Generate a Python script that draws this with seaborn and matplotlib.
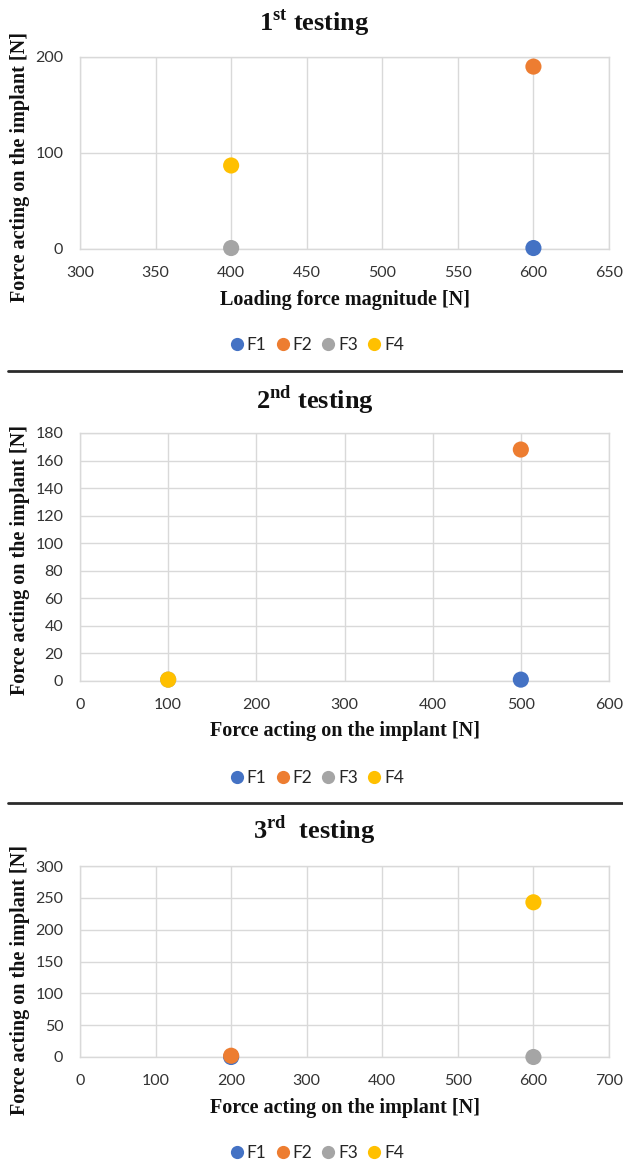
import matplotlib
matplotlib.use("Agg")
import matplotlib.pyplot as plt
from matplotlib.lines import Line2D
import numpy as np
import pandas as pd
import seaborn as sns

# ---- data -------------------------------------------------------------
series = ["F1", "F2", "F3", "F4"]
colors = ["#4472C4", "#ED7D31", "#A5A5A5", "#FFC000"]

# 1st testing
load_1 = [600, 600, 400, 400]
force_1 = [1, 190, 1, 87]
# 2nd testing
load_2 = [500, 500, 100, 100]
force_2 = [1, 168, 1, 1]
# 3rd testing
load_3 = [200, 200, 600, 600]
force_3 = [0, 2, 0, 243]

titles = ["1$^{\\mathrm{st}}$ testing", "2$^{\\mathrm{nd}}$ testing", "3$^{\\mathrm{rd}}$  testing"]
xlabels = ["Loading force magnitude [N]", "Force acting on the implant [N]",
           "Force acting on the implant [N]"]
ylabel = "Force acting on the implant [N]"
xticks = [np.arange(300, 651, 50), np.arange(0, 601, 100), np.arange(0, 701, 100)]
yticks = [np.arange(0, 201, 100), np.arange(0, 181, 20), np.arange(0, 301, 50)]

# ---- style ------------------------------------------------------------
sns.set_theme(style="white")
plt.rcParams["font.family"] = ["Lato", "DejaVu Sans"]
plt.rcParams["mathtext.fontset"] = "custom"
plt.rcParams["mathtext.rm"] = "Liberation Serif:bold"
plt.rcParams["mathtext.bf"] = "Liberation Serif:bold"

W, H = 623, 1164
fig = plt.figure(figsize=(W / 100, H / 100), dpi=100)
fig.patch.set_facecolor("white")

serif = dict(family="Liberation Serif", weight="bold")
grid_c = "#D9D9D9"
text_c = "#333333"

# pixel layout of each panel (from the top of the figure)
L, R = 80, 609
panels = [
    dict(top=57, bottom=249, title=23, xlab=300, ylab=167, leg=345),
    dict(top=433, bottom=681, title=400, xlab=731, ylab=560, leg=778),
    dict(top=866, bottom=1057, title=830, xlab=1108, ylab=980, leg=1153),
]
data = [(load_1, force_1), (load_2, force_2), (load_3, force_3)]

for i, (p, (xs, ys)) in enumerate(zip(panels, data)):
    rect = [L / W, 1 - p["bottom"] / H, (R - L) / W, (p["bottom"] - p["top"]) / H]
    ax = fig.add_axes(rect)
    df = pd.DataFrame({"load": xs, "force": ys, "series": series})
    sns.scatterplot(data=df, x="load", y="force", hue="series",
                    palette=dict(zip(series, colors)), hue_order=series,
                    s=135, edgecolor="none", linewidth=0, ax=ax, legend=False,
                    zorder=3, clip_on=False)
    ax.set_xlim(xticks[i][0], xticks[i][-1])
    ax.set_ylim(yticks[i][0], yticks[i][-1])
    ax.set_xticks(xticks[i])
    ax.set_yticks(yticks[i])
    ax.grid(True, color=grid_c, linewidth=1.0)
    for s in ax.spines.values():
        s.set_color(grid_c)
        s.set_linewidth(1.0)
    ax.tick_params(axis="both", length=0, labelsize=11.5, colors=text_c)
    ax.tick_params(axis="x", pad=12)
    ax.tick_params(axis="y", pad=12)

    h = p["bottom"] - p["top"]
    ax.set_xlabel(xlabels[i], fontsize=14.5, color="#111111", **serif)
    ax.xaxis.set_label_coords(((L + R) / 2 - L) / (R - L), (p["bottom"] - p["xlab"]) / h)
    ax.xaxis.label.set_verticalalignment("center")
    ax.set_ylabel(ylabel, fontsize=14.5, color="#111111", **serif)
    ax.yaxis.set_label_coords((20 - L) / (R - L), (p["bottom"] - p["ylab"]) / h)
    ax.yaxis.label.set_verticalalignment("center")

    fig.text(0.505, 1 - p["title"] / H, titles[i], ha="center", va="center",
             fontsize=19, color="#111111", **serif)

    handles = [Line2D([], [], marker="o", linestyle="none", markersize=9.5,
                      markerfacecolor=c, markeredgecolor="none") for c in colors]
    fig.legend(handles, series, loc="center", ncol=4,
               bbox_to_anchor=(316 / W, 1 - p["leg"] / H), frameon=False,
               fontsize=12.5, handletextpad=0.05, columnspacing=0.45,
               handlelength=1.0, labelcolor="#262626")

# separators between panels
for y in (371, 803):
    fig.add_artist(Line2D([8 / W, 1], [1 - y / H, 1 - y / H], transform=fig.transFigure,
                          color="#2b2b2b", linewidth=2))

fig.savefig("out.png", dpi=100, facecolor="white")
